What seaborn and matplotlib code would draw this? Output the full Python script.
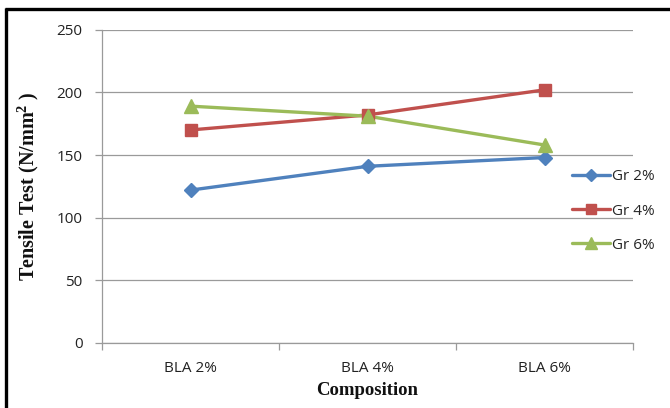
import matplotlib
matplotlib.use("Agg")
import matplotlib.pyplot as plt
from matplotlib.lines import Line2D
import seaborn as sns
import pandas as pd

# Tensile strength by BLA composition for three graphite levels
compositions = ["BLA 2%", "BLA 4%", "BLA 6%"]
gr2 = [122, 141, 148]
gr4 = [170, 182, 202]
gr6 = [189, 181, 158]
series_names = ["Gr 2%", "Gr 4%", "Gr 6%"]
y_ticks = [0, 50, 100, 150, 200, 250]

rows = []
for name, vals in zip(series_names, [gr2, gr4, gr6]):
    for pos, (comp, v) in enumerate(zip(compositions, vals)):
        rows.append({"pos": pos, "Composition": comp, "value": v, "series": name})
df = pd.DataFrame(rows)

sns.set_theme(style="white")
plt.rcParams["font.family"] = ["Open Sans", "DejaVu Sans"]
plt.rcParams["mathtext.fontset"] = "custom"
plt.rcParams["mathtext.rm"] = "Liberation Serif"
plt.rcParams["mathtext.bf"] = "Liberation Serif:bold"

palette = {"Gr 2%": "#4F81BD", "Gr 4%": "#C0504D", "Gr 6%": "#9BBB59"}
markers = {"Gr 2%": "D", "Gr 4%": "s", "Gr 6%": "^"}
msize = {"Gr 2%": 7.5, "Gr 4%": 8.5, "Gr 6%": 9.5}
grid_grey = "#9A9A9A"

fig = plt.figure(figsize=(6.7, 4.08), dpi=100)
ax = fig.add_axes([102 / 670, 1 - 343 / 408, (633 - 102) / 670, (343 - 29.7) / 408])

sns.lineplot(data=df, x="pos", y="value", hue="series", palette=palette,
             linewidth=2.4, ax=ax, legend=False, sort=False)
for name in series_names:
    sub = df[df["series"] == name]
    ax.plot(sub["pos"], sub["value"], linestyle="none", marker=markers[name],
            markersize=msize[name], color=palette[name], zorder=3)

ax.set_xlim(-0.5, 2.5)
ax.set_ylim(0, 250)
ax.set_yticks(y_ticks)
ax.set_xticks(range(len(compositions)))
ax.set_xticklabels(compositions)
ax.set_xticks([-0.5, 0.5, 1.5, 2.5], minor=True)
ax.tick_params(axis="x", which="major", length=0, pad=13, labelsize=11, colors="#222222")
ax.tick_params(axis="x", which="minor", length=5, width=0.9, color=grid_grey, direction="out", bottom=True)
ax.tick_params(axis="y", which="major", length=5, width=0.9, color=grid_grey, direction="out",
               left=True, pad=9, labelsize=11, labelcolor="#222222")

ax.grid(axis="y", color=grid_grey, linewidth=0.9)
ax.set_axisbelow(True)
for side in ["top", "right"]:
    ax.spines[side].set_visible(False)
for side in ["left", "bottom"]:
    ax.spines[side].set_color(grid_grey)
    ax.spines[side].set_linewidth(0.9)

ax.set_xlabel("Composition", family="Liberation Serif", fontweight="bold",
              fontsize=13.5, color="#111111", labelpad=4)
ax.set_ylabel(r"Tensile Test (N/mm$\mathbf{^2}$ )", family="Liberation Serif",
              fontweight="bold", fontsize=14.5, color="#111111", labelpad=11)

handles = [Line2D([0], [0], color=palette[n], linewidth=2.4, marker=markers[n],
                  markersize=msize[n] * 0.85) for n in series_names]
fig.legend(handles, series_names, loc="center left", bbox_to_anchor=(572 / 670, 1 - 211 / 408),
           frameon=False, fontsize=11, handlelength=2.5, handletextpad=0.15,
           labelspacing=1.25, borderpad=0, borderaxespad=0)

# outer frame along the top and left edges
fig.add_artist(Line2D([5 / 670, 1.0], [1 - 9 / 408, 1 - 9 / 408], transform=fig.transFigure,
                      color="black", linewidth=2.4, solid_capstyle="butt"))
fig.add_artist(Line2D([6 / 670, 6 / 670], [1 - 8 / 408, 0.0], transform=fig.transFigure,
                      color="black", linewidth=2.4, solid_capstyle="butt"))

fig.savefig("out.png", dpi=100)
